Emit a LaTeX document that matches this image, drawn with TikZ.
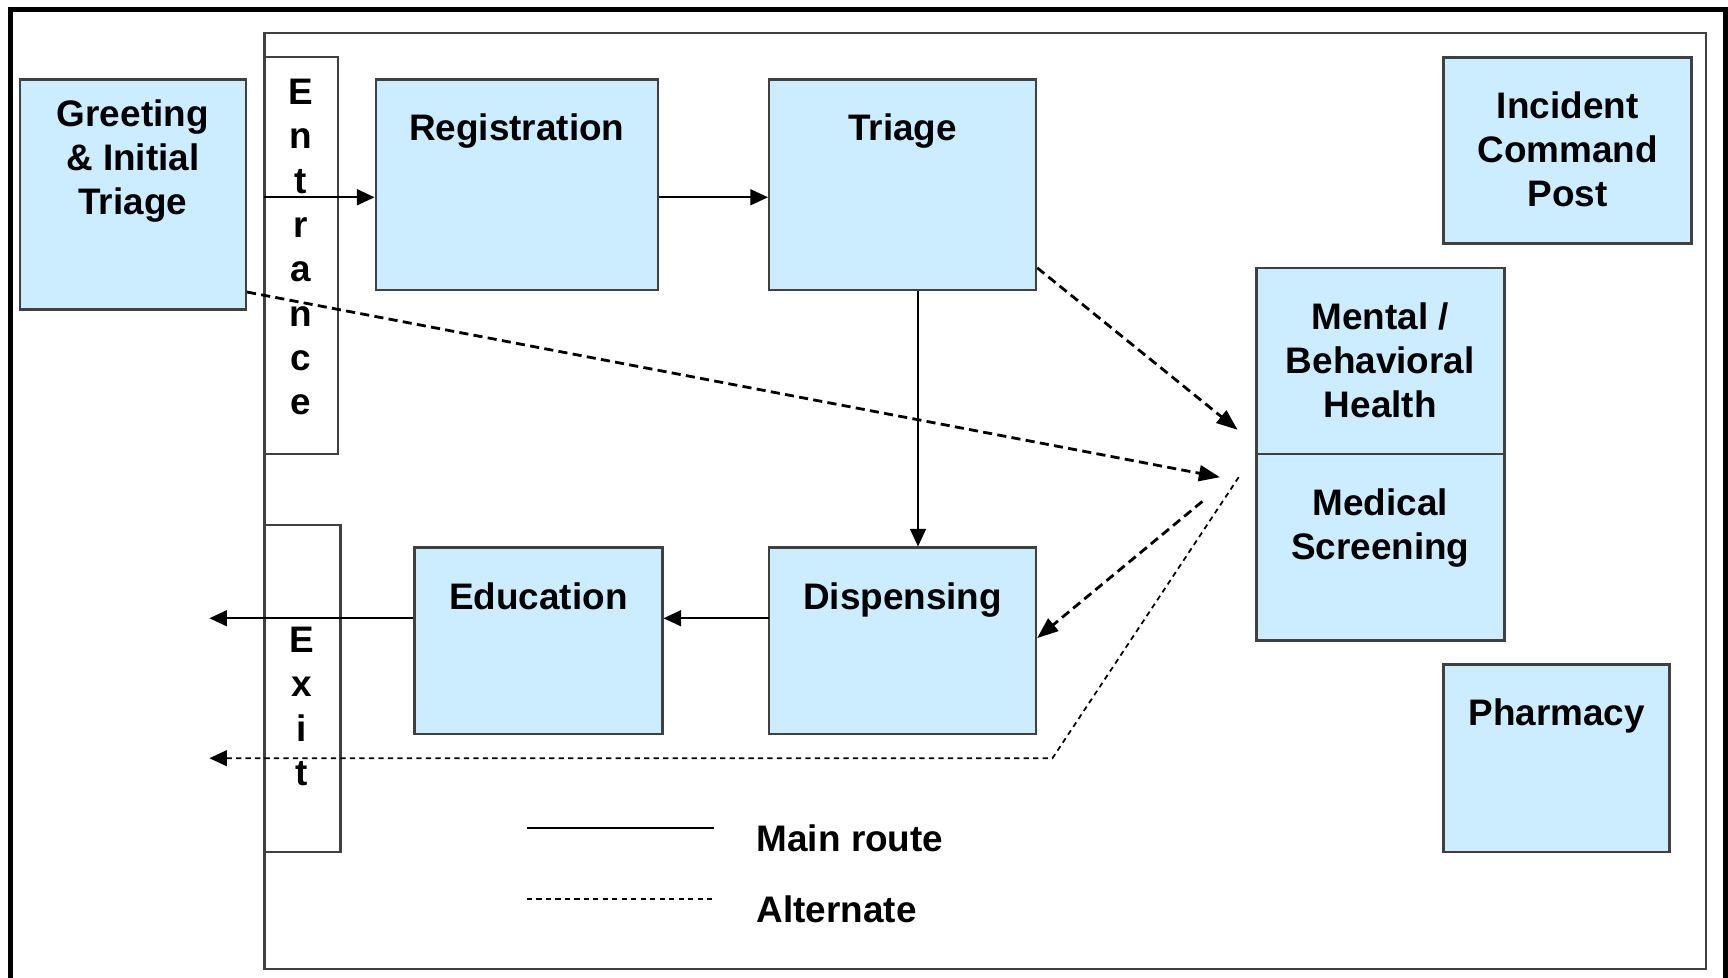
\documentclass[tikz,border=0pt]{standalone}
\usepackage{fontspec}
\setmainfont{Liberation Sans}
\usepackage{xcolor}
\usetikzlibrary{arrows.meta}
\usetikzlibrary{fit}
\definecolor{boxblue}{RGB}{204,236,255}
\tikzset{station/.style={draw=black!75, line width=0.7pt, fill=boxblue, inner sep=0pt},
 name tag/.style={anchor=north, yshift=-10pt, inner sep=0pt, align=center,
   font=\bfseries\fontsize{10.5}{12.5}\selectfont},
 doorway/.style={draw=black!75, line width=0.6pt, fill=white, inner sep=0pt},
 letter/.style={anchor=base, inner sep=0pt, font=\bfseries\fontsize{10.5}{12.5}\selectfont},
 route/.style={line width=0.6pt, -{Triangle[length=5pt,width=4.5pt]}},
 detour/.style={line width=0.8pt, dash pattern=on 2.6pt off 1.5pt,
   -{Triangle[length=6pt,width=4.5pt]}},
 bypass/.style={line width=0.5pt, dash pattern=on 1.5pt off 1.2pt,
   -{Triangle[length=5pt,width=4.5pt]}},
 }

\begin{document}
\begin{tikzpicture}[x=0.1102mm, y=-0.1102mm]
        \useasboundingbox (0,0) rectangle (1568,887);
        % frames
        \draw[line width=1.4pt] (9.5,900) -- (9.5,8.5) -- (1566,8.5) -- (1566,900);
        \draw[draw=black!75, line width=0.6pt] (240,30) rectangle (1548,879);
        % stations
        \node[station, fit={(18,72) (223,281)},
            label={[name tag, yshift=4pt]north:Greeting\\\& Initial\\Triage}] (greet) {};
        \node[station, fit={(341,72) (597,263)}, label={[name tag]north:Registration}] (reg) {};
        \node[station, fit={(698,72) (940,263)}, label={[name tag]north:Triage}] (tri) {};
        \node[station, fit={(1310,52) (1535,221)},
            label={[name tag]north:Incident\\Command\\Post}] (icp) {};
        \node[station, fit={(1140,243) (1365,412)},
            label={[name tag]north:Mental /\\Behavioral\\Health}] (mbh) {};
        \node[station, fit={(1140,412) (1365,581)},
            label={[name tag]north:Medical\\Screening}] (med) {};
        \node[station, fit={(1310,603) (1515,773)}, label={[name tag]north:Pharmacy}] (pharm) {};
        \node[station, fit={(376,497) (601,666)}, label={[name tag]north:Education}] (edu) {};
        \node[station, fit={(698,497) (940,666)}, label={[name tag]north:Dispensing}] (disp) {};
        % entrance and exit
        \node[doorway, fit={(240,52) (307,412)}] (entr) {};
        \foreach \c[count=\i] in {E,n,t,r,a,n,c,e} {
            \node[letter] (entr\i) at (273, {95+40.2*(\i-1)}) {\c};
        }
        \node[doorway, fit={(240,476) (309,773)}] (exit) {};
        \foreach \c[count=\i] in {E,x,i,t} {
            \node[letter] (exit\i) at (274, {592+40.3*(\i-1)}) {\c};
        }
        % main route
        \coordinate (door) at (240,179);
        \coordinate (drop) at (833,0);
        \coordinate (handout) at (698,561);
        \coordinate (leave) at (190,561);
        \draw[route] (door) -- (door -| reg.west);
        \draw[route] (reg.east |- door) -- (tri.west |- door);
        \draw[route] (tri.south -| drop) -- (disp.north -| drop);
        \draw[route] (handout) -- (handout -| edu.east);
        \draw[route] (handout -| edu.west) -- (leave);
        % alternate
        \coordinate (mhA) at (1123,390);
        \coordinate (mhB) at (1107,433);
        \coordinate (mhC) at (1091,455);
        \coordinate (mhD) at (1124,433);
        \coordinate (bend) at (955,688);
        \coordinate (leavealt) at (190,688);
        \draw[detour] (greet.east |- 0,265) -- (mhB);
        \draw[detour] (tri.east |- 0,243) -- (mhA);
        \draw[detour] (mhC) -- (disp.east |- 0,579);
        \draw[bypass] (mhD) -- (bend) -- (leavealt);
        % legend
        \coordinate (keymain) at (478,751);
        \coordinate (keyalt) at (478,816);
        \draw[line width=0.6pt] (keymain) -- ++(170,0);
        \draw[line width=0.5pt, dash pattern=on 1.5pt off 1.2pt] (keyalt) -- ++(170,0);
        \node[letter, anchor=base west] (mainlbl) at (686,773) {Main route};
        \node[letter, anchor=base west] (altlbl) at (686,837) {Alternate};
    \end{tikzpicture}
\end{document}
